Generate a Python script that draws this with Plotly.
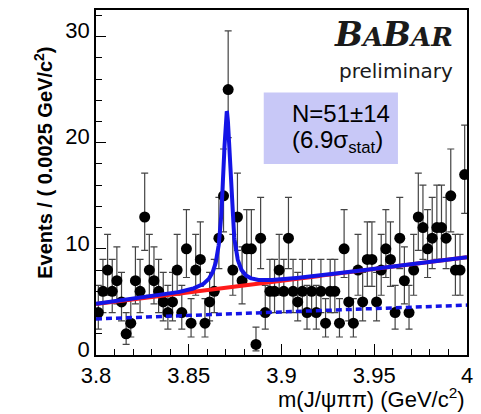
import numpy as np
import plotly.graph_objects as go

# ---------------- data ----------------
x_lo, x_hi, bin_width = 3.8, 4.0, 0.0025
counts = [4, 6, 8, 6, 7, 5, 2, 3, 7, 6,
          13, 8, 7, 6, 5, 4, 5, 8, 4, 10,
          3, 8, 9, 3, 5, 6, 11, 15, 25, 8,
          13, 7, 10, 10, 1, 11, 4, 6, 6, 8,
          6, 11, 6, 5, 6, 4, 6, 4, 6, 3,
          6, 6, 3, 10, 5, 3, 8, 5, 9, 9,
          5, 8, 10, 9, 4, 11, 7, 4, 8, 13,
          12, 10, 11, 12, 12, 11, 15, 8, 8, 17]

# fit-model parameters
bkg_at_lo, bkg_at_hi = 4.8, 9.2        # total background (red)
dash_at_lo, dash_at_hi = 3.4, 4.7      # dashed background component
sig_mass, sig_halfwidth, sig_peak = 3.8705, 0.0025, 16.6

x_ticks = [3.8, 3.85, 3.9, 3.95, 4.0]
x_tick_text = ["3.8", "3.85", "3.9", "3.95", "4"]
y_ticks = [0, 10, 20, 30]
y_tick_text = ["0", "10", "20", "30"]

# ---------------- derived ----------------
n = np.array(counts, dtype=float)
centers = x_lo + bin_width * (np.arange(len(counts)) + 0.5)
err_up = 0.5 + np.sqrt(n + 0.25)
err_dn = np.sqrt(n + 0.25) - 0.5

xs = np.linspace(x_lo, x_hi, 1601)
bkg = bkg_at_lo + (bkg_at_hi - bkg_at_lo) * (xs - x_lo) / (x_hi - x_lo)
dash_bkg = dash_at_lo + (dash_at_hi - dash_at_lo) * (xs - x_lo) / (x_hi - x_lo)
sig = sig_peak / (1 + ((xs - sig_mass) / sig_halfwidth) ** 2)
total = bkg + sig

fig = go.Figure()
fig.add_trace(go.Scatter(
    x=centers, y=n, mode="markers",
    marker=dict(color="black", size=11),
    error_y=dict(type="data", array=err_up, arrayminus=err_dn,
                 color="#444444", thickness=1.2, width=3.5),
    showlegend=False))
fig.add_trace(go.Scatter(x=xs, y=bkg, mode="lines",
                         line=dict(color="#ff1a1a", width=4), showlegend=False))
fig.add_trace(go.Scatter(x=xs, y=dash_bkg, mode="lines",
                         line=dict(color="#1414e6", width=3.5, dash="6px,4px"),
                         showlegend=False))
fig.add_trace(go.Scatter(x=xs, y=total, mode="lines",
                         line=dict(color="#1414e6", width=4), showlegend=False))

PL, PR, PT, PB = 96, 472, 8, 355
W, H = 481, 414


def px(xp):
    return (xp - PL) / (PR - PL)


def py(yp):
    return (PB - yp) / (PB - PT)


axis_common = dict(showline=True, mirror=True, linecolor="black", linewidth=1.5,
                   ticks="inside", tickcolor="black", tickwidth=1.2, showgrid=False,
                   zeroline=False,
                   tickfont=dict(family="Liberation Sans, Arial", size=22, color="black"))

fig.update_layout(
    width=W, height=H,
    margin=dict(l=PL, r=W - PR, t=PT, b=H - PB),
    paper_bgcolor="white", plot_bgcolor="white",
    xaxis=dict(range=[x_lo, x_hi], tickvals=x_ticks, ticktext=x_tick_text, ticklen=11,
               minor=dict(ticks="inside", dtick=0.01, ticklen=6, tickcolor="black"),
               **axis_common),
    yaxis=dict(range=[0, 32.5], tickvals=y_ticks, ticktext=y_tick_text, ticklen=10,
               ticklabelshift=-6,
               minor=dict(ticks="inside", dtick=2, ticklen=6, tickcolor="black"),
               **axis_common),
)

fig.add_shape(type="rect", xref="paper", yref="paper",
              x0=px(266), x1=px(402), y0=py(163), y1=py(91),
              fillcolor="#c8c8f7", line=dict(width=0), layer="below")

ann = []
ann.append(dict(text="<b>Events / ( 0.0025 GeV/c<sup>2</sup>)</b>", textangle=-90,
                x=px(42), y=py(162), xanchor="center", yanchor="middle",
                font=dict(family="Liberation Sans, Arial", size=20, color="black")))
ann.append(dict(text="m(J/\u03c8\u03c0\u03c0) (GeV/c<sup>2</sup>)",
                x=1.0, y=py(398), xanchor="right", yanchor="middle",
                font=dict(family="Liberation Sans, Arial", size=22, color="black")))
ann.append(dict(text="<b><i>B<span style='font-size:26px'>A</span>B"
                     "<span style='font-size:26px'>AR</span></i></b>",
                x=px(460), y=py(33), xanchor="right", yanchor="middle",
                font=dict(family="DejaVu Serif", size=33, color="#1a1a1a")))
ann.append(dict(text="preliminary", x=px(460), y=py(69), xanchor="right", yanchor="middle",
                font=dict(family="DejaVu Sans", size=20, color="#1a1a1a")))
ann.append(dict(text="N=51\u00b114", x=px(293), y=py(112), xanchor="left", yanchor="middle",
                font=dict(family="Liberation Sans, Arial", size=24, color="black")))
ann.append(dict(text="(6.9\u03c3<sub>stat</sub>)", x=px(293), y=py(140), xanchor="left",
                yanchor="middle",
                font=dict(family="Liberation Sans, Arial", size=24, color="black")))
for a in ann:
    a.update(xref="paper", yref="paper", showarrow=False)
fig.update_layout(annotations=ann)

fig.write_html("out.html")
